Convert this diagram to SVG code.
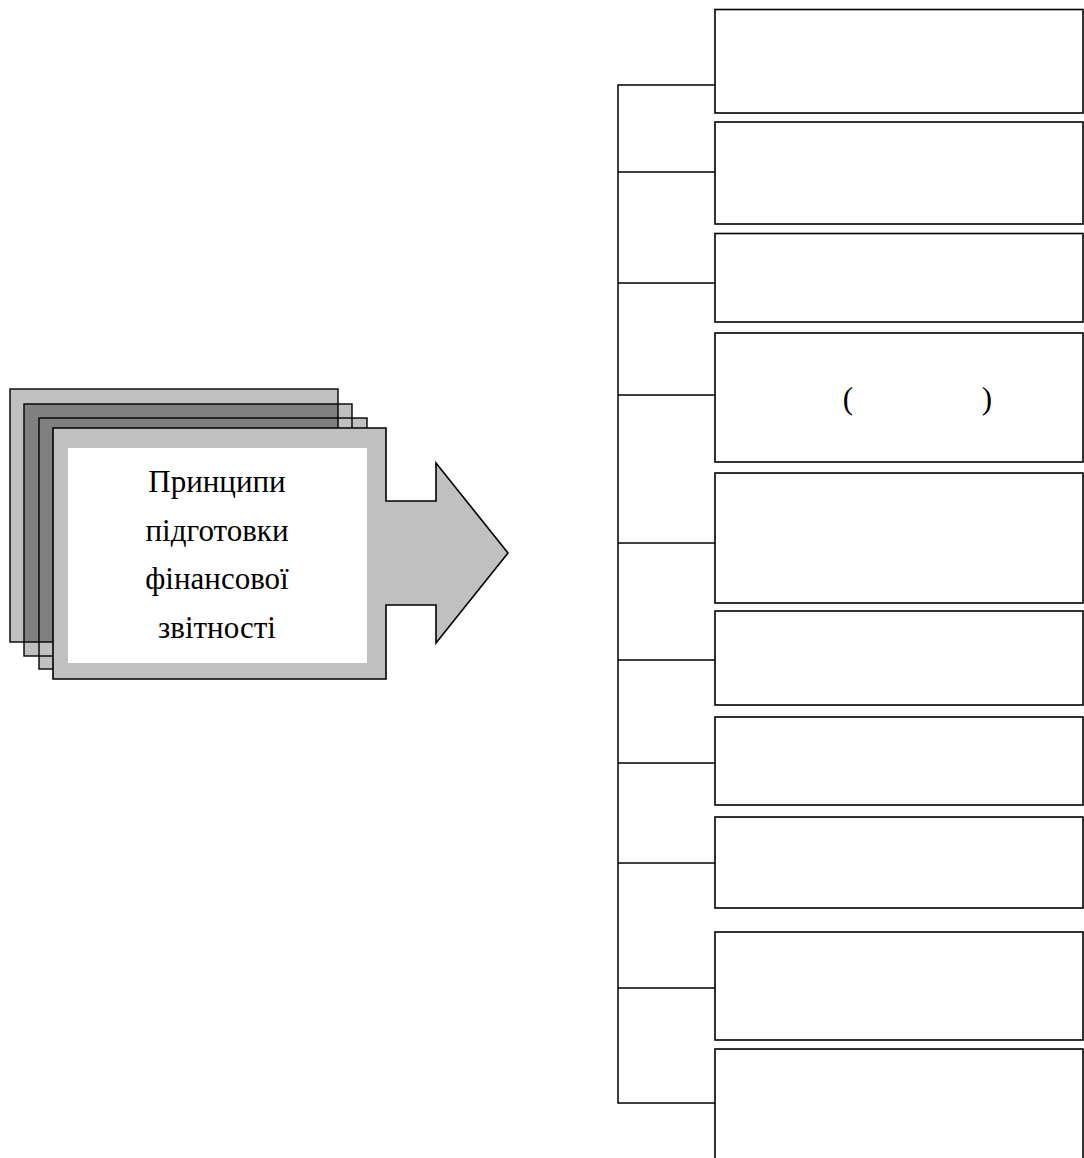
<svg xmlns="http://www.w3.org/2000/svg" width="1084" height="1158" viewBox="0 0 1084 1158">
<style>
.box{fill:#fff;stroke:#000;stroke-width:1.6}
.ol{fill:none;stroke:#000;stroke-width:1.4}
.conn{fill:none;stroke:#000;stroke-width:1.5}
.t{font-family:"Liberation Serif","Times New Roman",serif;font-size:31px;fill:#000;text-anchor:middle}
</style>
<rect width="1084" height="1158" fill="#fff"/>
<g id="main">
  <rect x="10" y="389" width="328" height="253" fill="#c0c0c0"/>
  <rect x="24" y="404" width="328" height="252" fill="#c0c0c0"/>
  <rect x="39" y="418" width="328" height="251" fill="#c0c0c0"/>
  <rect x="24" y="404" width="314" height="238" fill="#808080"/>
  <rect class="ol" x="10" y="389" width="328" height="253"/>
  <rect class="ol" x="24" y="404" width="328" height="252"/>
  <rect class="ol" x="39" y="418" width="328" height="251"/>
  <polygon points="53,428 386,428 386,501 436,501 436,463 508,553 436,643 436,605 386,605 386,679 53,679" fill="#c0c0c0" stroke="#000" stroke-width="1.6"/>
  <rect x="68" y="448" width="299" height="215" fill="#fff"/>
  <text class="t" x="217" y="492">Принципи</text>
  <text class="t" x="217" y="541">підготовки</text>
  <text class="t" x="217" y="589">фінансової</text>
  <text class="t" x="217" y="638">звітності</text>
</g>
<g id="connectors">
  <polyline class="conn" points="715,85 618,85 618,1103 715,1103"/>
  <line class="conn" x1="618" y1="172" x2="715" y2="172"/>
  <line class="conn" x1="618" y1="283" x2="715" y2="283"/>
  <line class="conn" x1="618" y1="395" x2="715" y2="395"/>
  <line class="conn" x1="618" y1="543" x2="715" y2="543"/>
  <line class="conn" x1="618" y1="660" x2="715" y2="660"/>
  <line class="conn" x1="618" y1="763" x2="715" y2="763"/>
  <line class="conn" x1="618" y1="863" x2="715" y2="863"/>
  <line class="conn" x1="618" y1="988" x2="715" y2="988"/>
</g>
<g id="box1"><rect class="box" x="715" y="9.5" width="368" height="103.5"/></g>
<g id="box2"><rect class="box" x="715" y="122" width="368" height="102"/></g>
<g id="box3"><rect class="box" x="715" y="233.5" width="368" height="88.5"/></g>
<g id="box4"><rect class="box" x="715" y="333" width="368" height="129"/>
  <text class="t" x="848" y="409">(</text>
  <text class="t" x="987" y="409">)</text>
</g>
<g id="box5"><rect class="box" x="715" y="473" width="368" height="130"/></g>
<g id="box6"><rect class="box" x="715" y="611" width="368" height="94"/></g>
<g id="box7"><rect class="box" x="715" y="717" width="368" height="88"/></g>
<g id="box8"><rect class="box" x="715" y="817" width="368" height="91"/></g>
<g id="box9"><rect class="box" x="715" y="932" width="368" height="108"/></g>
<g id="box10"><rect class="box" x="715" y="1049" width="368" height="130"/></g>
</svg>
